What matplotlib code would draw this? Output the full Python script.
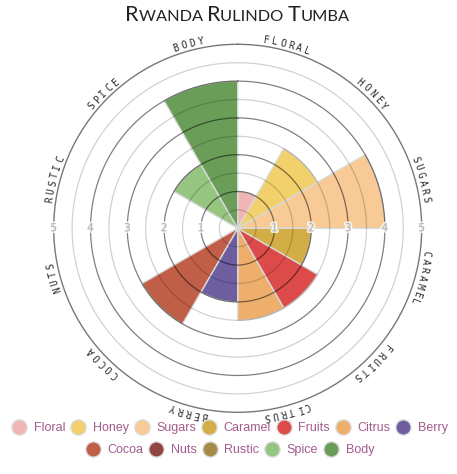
import numpy as np
import matplotlib
matplotlib.use('Agg')
from matplotlib import pyplot as plt
from matplotlib.lines import Line2D
import matplotlib.patheffects as pe

# flavour wheel data
categories = ['Floral', 'Honey', 'Sugars', 'Caramel', 'Fruits', 'Citrus',
              'Berry', 'Cocoa', 'Nuts', 'Rustic', 'Spice', 'Body']
scores = [1, 2.5, 4, 2, 2.5, 2.5, 2, 3, 0, 0, 2, 4]
colours = ['#f2b5b5', '#f2d16c', '#f8ca96', '#d3ad45', '#dd4a4a', '#eeaf6c',
           '#6e5ea0', '#c05e47', '#914545', '#a48b48', '#95c57f', '#6a9e58']
ring_labels = [1, 2, 3, 4, 5]
title_parts = [('R', 'big'), ('WANDA ', 'small'), ('R', 'big'), ('ULINDO ', 'small'),
               ('T', 'big'), ('UMBA', 'small')]

W, H = 457, 474
fig = plt.figure(figsize=(W / 100, H / 100), dpi=100)

# polar axes: centre (237.7, 228.3) px, r=5 -> 184 px
cx, cy, R = 237.7, 228.3, 184
ax = fig.add_axes([(cx - R) / W, (H - cy - R) / H, 2 * R / W, 2 * R / H], projection='polar')
ax.set_theta_zero_location('N')
ax.set_theta_direction(-1)
ax.set_ylim(0, 5)
ax.grid(False)
ax.set_xticks([])
ax.set_yticks([])
ax.spines['polar'].set_color('#777777')
ax.spines['polar'].set_linewidth(1.0)

step = 360 / len(categories)
theta = np.deg2rad(np.arange(len(categories)) * step + step / 2)
ax.bar(theta, scores, width=np.deg2rad(step), bottom=0, color=colours,
       edgecolor='#d9d9d9', linewidth=1.0, zorder=1)

# rings every 0.5, integer ones darker, drawn over the bars
t = np.linspace(0, 2 * np.pi, 400)
for r in np.arange(0.5, 5, 0.5):
    if float(r).is_integer():
        ax.plot(t, np.full_like(t, r), color='black', alpha=0.5, lw=0.9, zorder=3)
    else:
        ax.plot(t, np.full_like(t, r), color='black', alpha=0.18, lw=0.9, zorder=3)

# ring numbers on both sides
for r in ring_labels:
    for side in (90, 270):
        ax.text(np.deg2rad(side), r, str(r), ha='center', va='center', fontsize=8,
                color='#adadad', zorder=5,
                path_effects=[pe.withStroke(linewidth=2.5, foreground='white', alpha=0.8)])

# curved category names, letters spread along the outer ring
for i, name in enumerate(categories):
    mid = i * step + step / 2
    word = name.upper()
    n = len(word)
    for j, ch in enumerate(word):
        ang = mid + (j - (n - 1) / 2) * 2.5
        ax.text(np.deg2rad(ang), 5.17, ch, rotation=-ang, rotation_mode='anchor',
                ha='center', va='center', fontsize=7, family='DejaVu Sans Mono',
                color='#2a2a2a', clip_on=False)

# small caps title
sizes = {'big': 15.5, 'small': 11.8}
renderer = fig.canvas.get_renderer()
pieces = []
total = 0
for txt, kind in title_parts:
    tt = fig.text(0, 0, txt, fontsize=sizes[kind], family='Lato', color='#222222', va='baseline')
    w = tt.get_window_extent(renderer).width
    pieces.append((tt, w))
    total += w
x0 = 237.5 - total / 2
for tt, w in pieces:
    tt.set_position((x0 / W, 1 - 20.7 / H))
    x0 += w

# legend in two rows
handles = [Line2D([], [], marker='o', ls='', markersize=11, markerfacecolor=c,
                  markeredgecolor='#dddddd', markeredgewidth=1) for c in colours]
for rows, y in ((slice(0, 7), 428.3), (slice(7, 12), 450)):
    hs = handles[rows]
    fig.legend(hs, categories[rows], loc='center', bbox_to_anchor=(0.504, 1 - y / H),
               ncol=len(hs), frameon=False, handlelength=1.0, handletextpad=0.65,
               columnspacing=0.55, borderpad=0, labelcolor='#a25b8d',
               prop={'family': 'Liberation Sans', 'size': 9})

fig.savefig('out.png', dpi=100)
